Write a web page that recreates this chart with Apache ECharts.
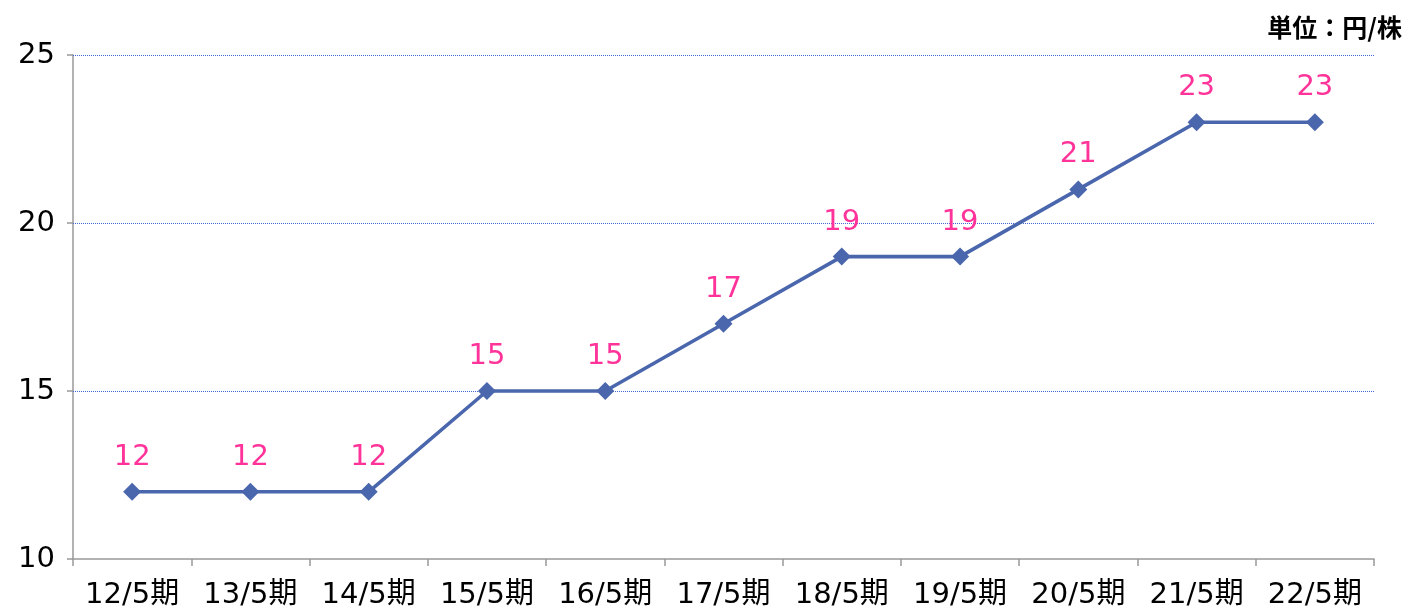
<!DOCTYPE html>
<html><head><meta charset="utf-8">
<script src="https://cdn.jsdelivr.net/npm/echarts@6/dist/echarts.min.js"></script>
<style>html,body{margin:0;padding:0;background:#fff}#c{width:1414px;height:610px}</style>
</head><body><div id="c"></div>
<script>
const categories = ['12/5期','13/5期','14/5期','15/5期','16/5期','17/5期','18/5期','19/5期','20/5期','21/5期','22/5期'];
const dividends = [12,12,12,15,15,17,19,19,21,23,23];
const gridValues = [15,20,25];
const unitLabel = '単位：円/株';

const chart = echarts.init(document.getElementById('c'));
chart.setOption({
  animation:false,
  title:{text:unitLabel,right:7,top:10,textStyle:{fontFamily:'Noto Sans CJK JP',fontSize:25,fontWeight:'bold',color:'#000'}},
  grid:{left:73,right:40,top:55,bottom:51},
  xAxis:{type:'category',data:categories,boundaryGap:true,
    axisLine:{lineStyle:{color:'#999',width:1.5}},
    axisTick:{show:true,length:7,lineStyle:{color:'#999',width:1.5}},
    axisLabel:{color:'#000',fontSize:29,margin:22,fontFamily:'DejaVu Sans, Noto Sans CJK JP',interval:0}},
  yAxis:{type:'value',min:10,max:25,interval:5,
    axisLine:{show:true,lineStyle:{color:'#999',width:1.5}},
    axisTick:{show:true,length:6,lineStyle:{color:'#999',width:1.5}},
    axisLabel:{color:'#000',fontSize:29,margin:18,fontFamily:'DejaVu Sans'},
    splitLine:{show:false}},
  series:[{type:'line',data:dividends,symbol:'diamond',symbolSize:18,z:3,
    lineStyle:{color:'#4a66ac',width:3.6},itemStyle:{color:'#4a66ac'},
    label:{show:true,position:'top',distance:11,color:'#ff3399',fontSize:29,fontFamily:'DejaVu Sans'},
    markLine:{silent:true,symbol:'none',z:1,label:{show:false},
      lineStyle:{color:'#4466dd',type:[1,1],width:1},
      emphasis:{disabled:true},
      data:gridValues.map(v=>({yAxis:v}))}}]
});
</script></body></html>
